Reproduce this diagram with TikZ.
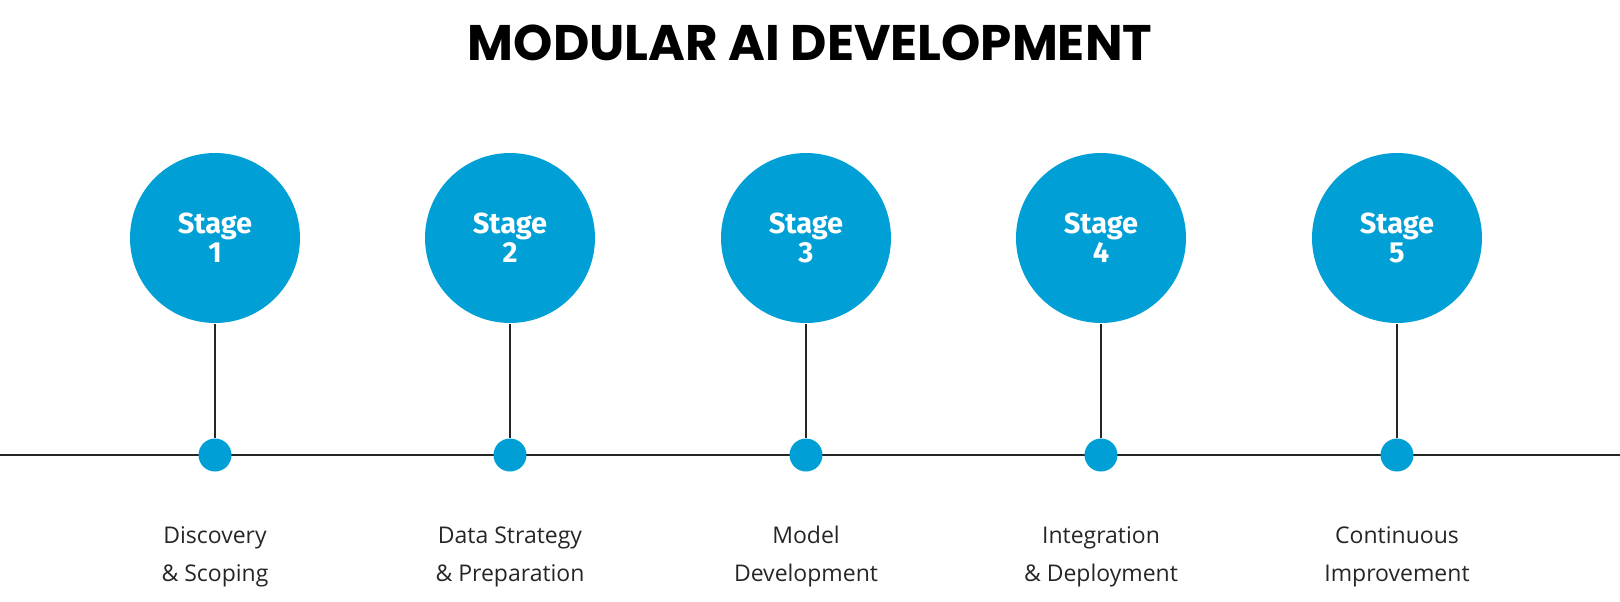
\documentclass[tikz,border=0pt]{standalone}
\usepackage{fontspec}
\setmainfont{Open Sans}
\newfontfamily\titlefont{Poppins}
\newfontfamily\stagefont{Fira Sans}
\definecolor{stageblue}{RGB}{0,159,214}
\tikzset{every picture/.style={line width=1.5pt}}
\begin{document}
\begin{tikzpicture}[x=1pt,y=1pt,yscale=-1,xscale=1]
        \useasboundingbox (0,0) rectangle (1620,602);
        \tikzset{
          stagecircle/.style={circle,fill=stageblue,minimum size=170pt,inner sep=0pt,text=white,
            align=center,font=\stagefont\bfseries\fontsize{29}{32}\selectfont},
          stagedot/.style={circle,fill=stageblue,minimum size=33pt,inner sep=0pt},
          stagelabel/.style={align=center,font=\fontsize{23}{38}\selectfont,text=black!85}}
        % Title
        \node (title) at (810,43) {\titlefont\bfseries\fontsize{50}{56}\selectfont MODULAR AI DEVELOPMENT};
        % Timeline
        \coordinate (lineL) at (0,455);
        \coordinate (lineR) at (1620,455);
        \draw [black!85] (lineL) -- (lineR);
        \foreach \i/\x/\txt in {1/215/{Discovery\\\& Scoping},2/510/{Data Strategy\\\& Preparation},3/806/{Model\\Development},4/1101/{Integration\\\& Deployment},5/1397/{Continuous\\Improvement}}{
          \node [stagecircle] (stage\i) at (\x,238) {Stage\\[-3pt]\i};
          \node [stagedot] (dot\i) at (\x,455) {};
          \draw [black!85] (stage\i.south) -- (dot\i.north);
          \node [stagelabel] (label\i) at (\x,557) {\txt};
        }
\end{tikzpicture}
\end{document}
